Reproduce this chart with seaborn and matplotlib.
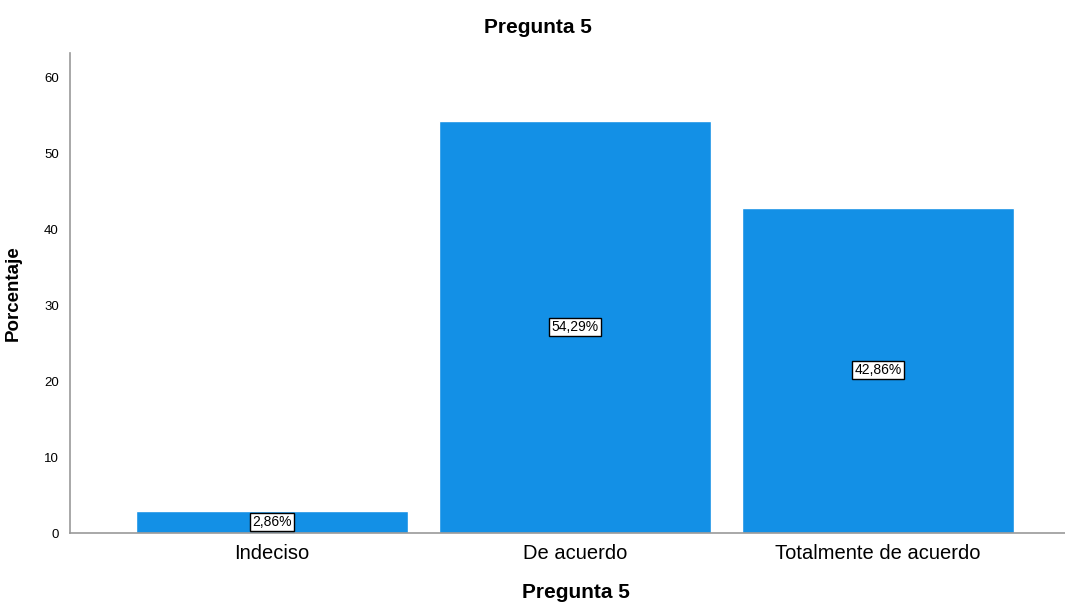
import pandas as pd
import matplotlib
matplotlib.use("Agg")
import matplotlib.pyplot as plt
import seaborn as sns

categories = ["Indeciso", "De acuerdo", "Totalmente de acuerdo"]
percentages = [2.86, 54.29, 42.86]
value_labels = ["2,86%", "54,29%", "42,86%"]

df = pd.DataFrame({"categoria": categories, "porcentaje": percentages})

sns.set_style("white")
plt.rcParams["font.family"] = ["Liberation Sans", "DejaVu Sans"]
plt.rcParams["text.color"] = "black"
plt.rcParams["axes.labelcolor"] = "black"
plt.rcParams["xtick.color"] = "black"
plt.rcParams["ytick.color"] = "black"

fig = plt.figure(figsize=(10.65, 6.05), dpi=100)
ax = fig.add_axes([0.0657, 0.119, 0.9343, 0.793])

sns.barplot(data=df, x="categoria", y="porcentaje", color="#1390E6",
            saturation=1, width=0.9, ax=ax)

# labels in the middle of each bar
for i, (val, txt) in enumerate(zip(percentages, value_labels)):
    ax.text(i, val / 2, txt, ha="center", va="center", fontsize=10,
            color="black",
            bbox=dict(boxstyle="square,pad=0.15", facecolor="white",
                      edgecolor="black", linewidth=1))

ax.set_xlim(-0.667, 2.617)
ax.set_ylim(0, 63.2)
ax.set_yticks([0, 10, 20, 30, 40, 50, 60])
ax.tick_params(axis="both", length=0)
ax.tick_params(axis="x", labelsize=14.5, pad=8)
ax.tick_params(axis="y", labelsize=9.5, pad=8)

for side in ["top", "right"]:
    ax.spines[side].set_visible(False)
for side in ["left", "bottom"]:
    ax.spines[side].set_color("#999999")
    ax.spines[side].set_linewidth(1.2)

ax.set_xlabel("Pregunta 5", fontsize=15, fontweight="bold", labelpad=16)
ax.xaxis.set_label_coords(0.508, -0.105)
ax.set_ylabel("Porcentaje", fontsize=13.5, fontweight="bold", labelpad=16)
fig.suptitle("Pregunta 5", fontsize=15, fontweight="bold", x=0.505, y=0.97)

fig.savefig("out.png", dpi=100)
